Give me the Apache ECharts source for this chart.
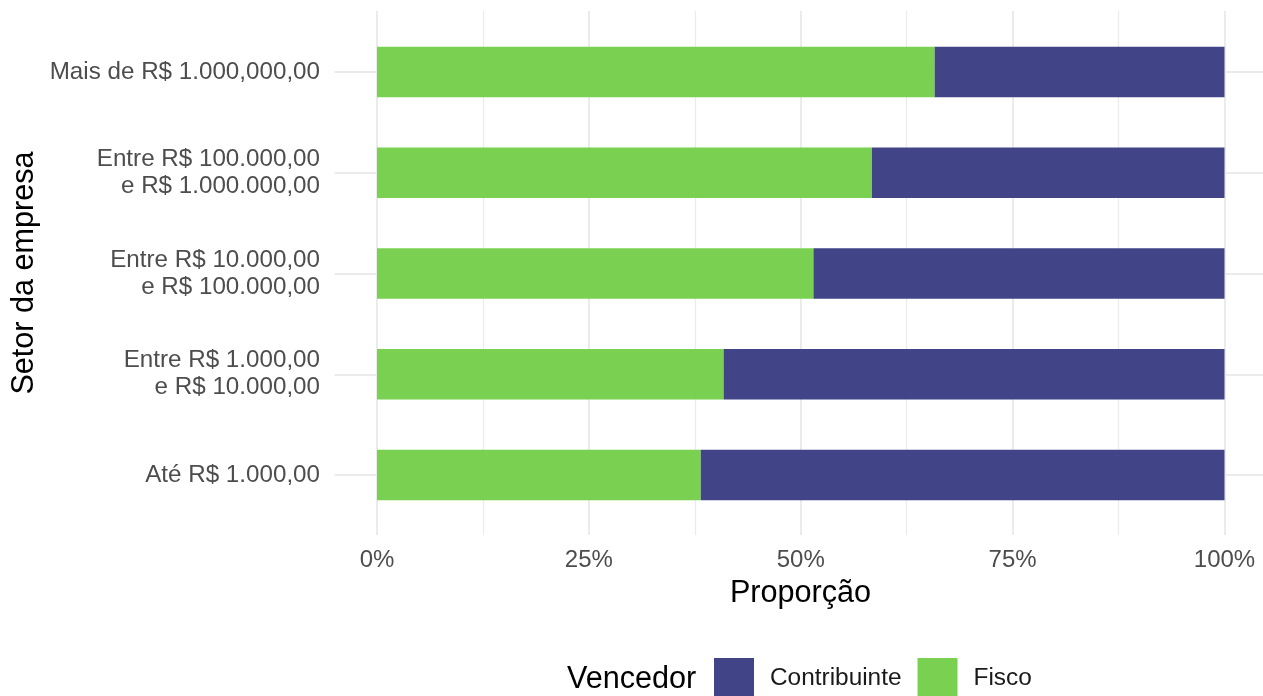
<!DOCTYPE html>
<html><head><meta charset="utf-8">
<script src="https://cdn.jsdelivr.net/npm/echarts@6/dist/echarts.min.js"></script>
<style>html,body{margin:0;padding:0;background:#fff}#c{width:1263px;height:696px}</style>
</head><body><div id="c"></div>
<script>
const categories = [
  'Até R$ 1.000,00',
  'Entre R$ 1.000,00\ne R$ 10.000,00',
  'Entre R$ 10.000,00\ne R$ 100.000,00',
  'Entre R$ 100.000,00\ne R$ 1.000.000,00',
  'Mais de R$ 1.000,000,00'
];
const fisco = [0.382, 0.409, 0.515, 0.584, 0.658];
const contribuinte = [0.618, 0.591, 0.485, 0.416, 0.342];
const tickLabels = ['0%', '25%', '50%', '75%', '100%'];
const legendOrder = ['Contribuinte', 'Fisco'];

const FONT = "'Liberation Sans', Arial, sans-serif";
const GRID = '#EBEBEB';
const chart = echarts.init(document.getElementById('c'), null, {renderer: 'canvas'});
chart.setOption({
  backgroundColor: '#ffffff',
  animation: false,
  textStyle: {fontFamily: FONT},
  grid: [
    {left: 377, right: 38.5, top: 21.6, bottom: 170.6},
    {left: 377, right: 38.5, top: 11, bottom: 161}
  ],
  xAxis: [
    {gridIndex: 0, type: 'value', min: 0, max: 1, show: false},
    {gridIndex: 1, type: 'value', min: 0, max: 1, interval: 0.25,
     axisLine: {show: false}, axisTick: {show: false},
     axisLabel: {margin: 13, fontSize: 24, color: '#4D4D4D', fontFamily: FONT,
       formatter: (v, i) => tickLabels[i]},
     splitLine: {show: true, lineStyle: {color: GRID, width: 2}},
     minorTick: {show: false, splitNumber: 2},
     minorSplitLine: {show: true, lineStyle: {color: GRID, width: 1.2}}}
  ],
  yAxis: [
    {gridIndex: 0, type: 'category', position: 'left', data: categories,
     axisLine: {show: false},
     axisTick: {show: true, interval: 0, alignWithLabel: true, length: 42.4, lineStyle: {color: GRID, width: 2}},
     axisLabel: {interval: 0, margin: 57, fontSize: 24.2, lineHeight: 27, color: '#4D4D4D', fontFamily: FONT, align: 'right', padding: [3, 0, 0, 0]},
     splitLine: {show: false}},
    {gridIndex: 0, type: 'category', position: 'left', data: categories,
     axisLine: {show: false},
     axisTick: {show: true, inside: true, interval: 0, alignWithLabel: true, length: 886, lineStyle: {color: GRID, width: 2}},
     axisLabel: {show: false}, splitLine: {show: false}},
    {gridIndex: 1, type: 'value', min: 0, max: 1, show: false}
  ],
  legend: {
    left: 714, top: 658, padding: 0, orient: 'horizontal', itemWidth: 40, itemHeight: 40, itemGap: 16,
    icon: 'rect', selectedMode: false, data: legendOrder,
    textStyle: {fontSize: 24.4, color: '#1A1A1A', fontFamily: FONT, padding: [0, 0, 0, 11]}
  },
  graphic: [
    {type: 'text', x: 800.5, y: 594, style: {text: 'Proporção', align: 'center', verticalAlign: 'middle', fontSize: 30.6, fontFamily: FONT, fill: '#000'}},
    {type: 'text', x: 25, y: 273, rotation: Math.PI / 2, style: {text: 'Setor da empresa', align: 'center', verticalAlign: 'middle', fontSize: 30.6, fontFamily: FONT, fill: '#000'}},
    {type: 'text', x: 567, y: 680, style: {text: 'Vencedor', align: 'left', verticalAlign: 'middle', fontSize: 30.6, fontFamily: FONT, fill: '#000'}}
  ],
  series: [
    {name: 'Fisco', type: 'bar', stack: 'p', xAxisIndex: 0, yAxisIndex: 0, barWidth: '50%', data: fisco, itemStyle: {color: '#7AD151'}},
    {name: 'Contribuinte', type: 'bar', stack: 'p', xAxisIndex: 0, yAxisIndex: 0, barWidth: '50%', data: contribuinte, itemStyle: {color: '#414487'}}
  ]
});
</script></body></html>
